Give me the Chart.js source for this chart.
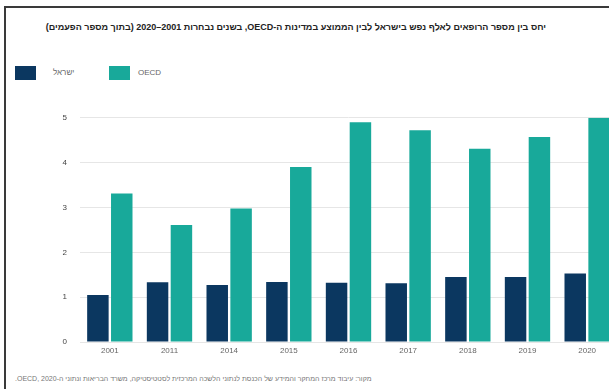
<!DOCTYPE html>
<html lang="he">
<head>
<meta charset="utf-8">
<script src="https://cdn.jsdelivr.net/npm/chart.js@4"></script>
<style>
  html, body { margin: 0; padding: 0; background: #fff; overflow: hidden; }
  body { width: 609px; height: 389px; position: relative; font-family: "Liberation Sans", "DejaVu Sans", sans-serif; }
  .frame { position: absolute; left: 4px; top: 6px; width: 700px; height: 420px; border-left: 2px solid #3a3a3a; border-top: 2px solid #3a3a3a; }
  .titulo { position: absolute; left: 56px; top: 22px; width: 490px; text-align: right; font-size: 9px; font-weight: bold; color: #222; white-space: nowrap; }
  .leyenda { position: absolute; top: 66px; left: 15px; font-size: 8px; color: #666; }
  .leyenda span.caja { position: absolute; top: 0; width: 21px; height: 14px; }
  .leyenda span.txt { position: absolute; top: 2px; white-space: nowrap; }
  .fuente { position: absolute; left: 15px; top: 375px; font-size: 7px; color: #777; white-space: nowrap; }
  #grafico { position: absolute; left: 7px; top: 100px; }
</style>
</head>
<body>
<div class="frame"></div>
<div class="titulo" dir="rtl">יחס בין מספר הרופאים לאלף נפש בישראל לבין הממוצע במדינות ה-OECD, בשנים נבחרות 2001–2020 (בתוך מספר הפעמים)</div>
<div class="leyenda" id="leyenda"></div>
<canvas id="grafico" width="610" height="262"></canvas>
<div class="fuente" dir="rtl">מקור: עיבוד מרכז המחקר והמידע של הכנסת לנתוני הלשכה המרכזית לסטטיסטיקה, משרד הבריאות ונתוני ה-OECD, 2020.</div>
<script>
const anios = ['2001', '2011', '2014', '2015', '2016', '2017', '2018', '2019', '2020'];
const serieIsrael = [1.05, 1.33, 1.27, 1.34, 1.32, 1.31, 1.45, 1.45, 1.53];
const serieOecd = [3.31, 2.61, 2.98, 3.90, 4.90, 4.72, 4.31, 4.57, 5.00];
const nombresSeries = ['ישראל', 'OECD'];
const ticksY = [0, 1, 2, 3, 4, 5];

const colorOscuro = '#0b3760';
const colorTeal = '#18a99a';

// leyenda en html, cajas y textos a la izquierda
const leyenda = document.getElementById('leyenda');
const posiciones = [[0, 38], [94, 123]];
[colorOscuro, colorTeal].forEach((color, i) => {
    const caja = document.createElement('span');
    caja.className = 'caja';
    caja.style.left = posiciones[i][0] + 'px';
    caja.style.background = color;
    leyenda.appendChild(caja);
    const txt = document.createElement('span');
    txt.className = 'txt';
    txt.style.left = posiciones[i][1] + 'px';
    txt.textContent = nombresSeries[i];
    leyenda.appendChild(txt);
});

const grafico = document.getElementById('grafico');
new Chart(grafico, {
    type: 'bar',
    data: {
        labels: anios,
        datasets: [
            { label: nombresSeries[0], data: serieIsrael, backgroundColor: colorOscuro },
            { label: nombresSeries[1], data: serieOecd, backgroundColor: colorTeal }
        ]
    },
    options: {
        responsive: false,
        animation: false,
        layout: { padding: { top: 12, left: 0, right: 0, bottom: 0 } },
        categoryPercentage: 0.8,
        barPercentage: 0.9,
        plugins: {
            legend: { display: false },
            tooltip: { enabled: false }
        },
        scales: {
            x: {
                grid: { display: false, drawTicks: false },
                border: { display: false },
                ticks: { color: '#666', font: { size: 8, family: 'Liberation Sans' }, padding: 4 },
                afterFit: (s) => { s.height = 20; }
            },
            y: {
                min: 0,
                max: 5,
                afterBuildTicks: (s) => { s.ticks = ticksY.map(v => ({ value: v })); },
                grid: { color: '#e6e6e6', drawTicks: false },
                border: { display: false },
                ticks: { color: '#444', font: { size: 8, family: 'Liberation Sans' }, padding: 13 },
                afterFit: (s) => { s.width = 73; }
            }
        }
    }
});
</script>
</body>
</html>
